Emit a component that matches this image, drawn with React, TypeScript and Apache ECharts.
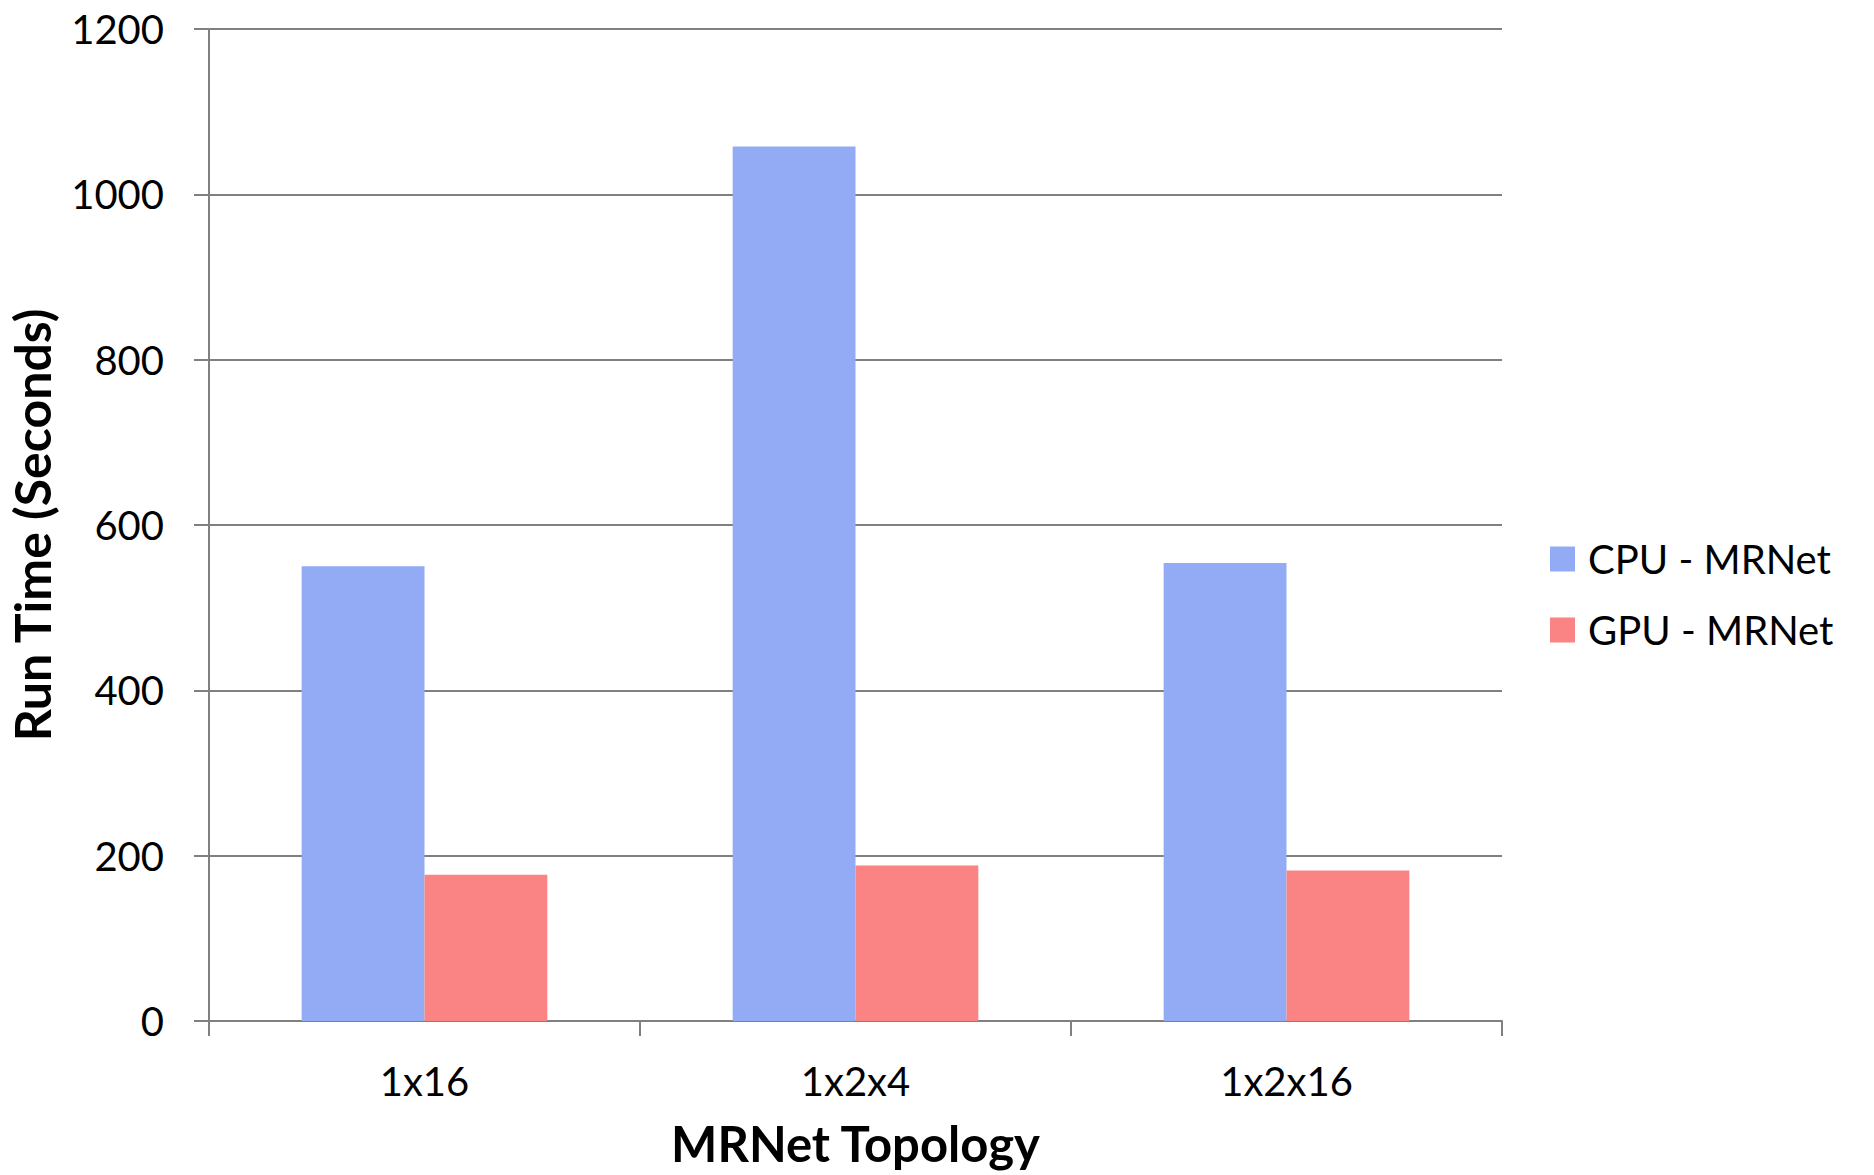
import React, { useEffect, useRef } from "react";
import * as echarts from "echarts";

const categories = ["1x16", "1x2x4", "1x2x16"];
const cpuValues = [550, 1058, 554];
const gpuValues = [177, 188, 182];
const seriesNames = ["CPU - MRNet", "GPU - MRNet"];

const FONT = "Lato, 'Open Sans', sans-serif";

export default function App() {
  const ref = useRef<HTMLDivElement>(null);
  useEffect(() => {
    if (!ref.current) return;
    const chart = echarts.init(ref.current, undefined, { renderer: "svg" });
    chart.setOption({
      animation: false,
      backgroundColor: "#ffffff",
      textStyle: { fontFamily: FONT },
      grid: {
        left: 209,
        top: 29,
        width: 1293,
        height: 992,
        containLabel: false,
        outerBoundsMode: "none",
      },
      legend: {
        orient: "vertical",
        left: 1545,
        top: 534,
        itemWidth: 25,
        itemHeight: 25,
        itemGap: 31,
        icon: "rect",
        textStyle: { fontSize: 40, color: "#000", fontFamily: FONT, lineHeight: 40, padding: [0, 0, 0, 8] },
        data: seriesNames,
      },
      xAxis: {
        type: "category",
        data: categories,
        name: "MRNet Topology",
        nameLocation: "middle",
        nameGap: 97,
        nameTextStyle: { fontSize: 49, fontWeight: "bold", color: "#000", fontFamily: FONT },
        axisLine: { lineStyle: { color: "#808080", width: 2 } },
        axisTick: { show: true, length: 15, lineStyle: { color: "#808080", width: 2 } },
        axisLabel: { fontSize: 40, color: "#000", margin: 40, fontFamily: FONT },
      },
      yAxis: {
        type: "value",
        min: 0,
        max: 1200,
        interval: 200,
        name: "Run Time (Seconds)",
        nameLocation: "middle",
        nameGap: 152,
        nameRotate: 90,
        nameTextStyle: { fontSize: 50, fontWeight: "bold", color: "#000", fontFamily: FONT },
        axisLine: { show: true, lineStyle: { color: "#808080", width: 2 } },
        axisTick: { show: true, length: 15, lineStyle: { color: "#808080", width: 2 } },
        axisLabel: {
          fontSize: 40,
          color: "#000",
          margin: 45,
          fontFamily: FONT,
          formatter: (v: number) => String(v),
        },
        splitLine: { show: true, lineStyle: { color: "#808080", width: 2 } },
      },
      series: [
        {
          name: seriesNames[0],
          type: "bar",
          data: cpuValues,
          barGap: "0%",
          barCategoryGap: "43%",
          itemStyle: { color: "#93AAF4" },
        },
        {
          name: seriesNames[1],
          type: "bar",
          data: gpuValues,
          barGap: "0%",
          barCategoryGap: "43%",
          itemStyle: { color: "#FA8383" },
        },
      ],
    });
    return () => chart.dispose();
  }, []);
  return (
    <div
      ref={ref}
      style={{ position: "absolute", left: 0, top: 0, width: 1874, height: 1175 }}
    />
  );
}
